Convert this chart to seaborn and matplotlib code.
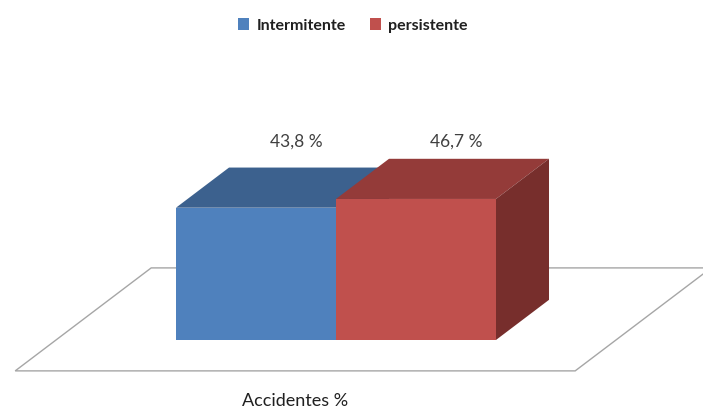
import matplotlib
matplotlib.use("Agg")
import matplotlib.pyplot as plt
from matplotlib.patches import Polygon, Rectangle
import seaborn as sns

series = ["Intermitente", "persistente"]
values = [43.8, 46.7]
value_labels = ["43,8 %", "46,7 %"]
category = "Accidentes %"

front_colors = ["#4F81BD", "#C0504D"]
top_colors = ["#3C618E", "#943B39"]
side_colors = ["#2F4D72", "#772E2C"]

sns.set_theme(style="white")
plt.rcParams["font.family"] = ["Lato", "DejaVu Sans"]

fig = plt.figure(figsize=(7.03, 4.09), dpi=100)
ax = fig.add_axes([0, 0, 1, 1])

sns.barplot(x=series, y=values, hue=series, palette=front_colors,
            width=1.0, saturation=1, edgecolor="none", linewidth=0,
            legend=False, ax=ax, zorder=3)

ax.set_xlim(-1.6, 2.794)
ax.set_ylim(-22.85, 112.58)
ax.axis("off")

# oblique projection of the depth axis (data units)
floor_depth = (0.85, 34.1)
bar_front = 0.3   # bars occupy the middle of the floor's depth
bar_back = 0.69
ddx = floor_depth[0] * (bar_back - bar_front)
ddy = floor_depth[1] * (bar_back - bar_front)

bars = sorted([p for p in ax.patches if p.get_height() > 0],
              key=lambda p: p.get_x())
left = min(b.get_x() for b in bars)
right = max(b.get_x() + b.get_width() for b in bars)
base = bars[0].get_y()

# floor plane
margin = 0.75
fx0 = left - margin - floor_depth[0] * bar_front
fx1 = right + margin - floor_depth[0] * bar_front
fy = base - floor_depth[1] * bar_front
floor = Polygon([(fx0, fy), (fx1, fy),
                 (fx1 + floor_depth[0], fy + floor_depth[1]),
                 (fx0 + floor_depth[0], fy + floor_depth[1])],
                closed=True, facecolor="white", edgecolor="#A6A6A6",
                linewidth=1.0, zorder=1)
ax.add_patch(floor)

for i, b in enumerate(bars):
    x0, w, h = b.get_x(), b.get_width(), b.get_height()
    y0 = b.get_y()
    top = Polygon([(x0, y0 + h), (x0 + w, y0 + h),
                   (x0 + w + ddx, y0 + h + ddy), (x0 + ddx, y0 + h + ddy)],
                  closed=True, facecolor=top_colors[i], edgecolor="none",
                  zorder=3 + i)
    side = Polygon([(x0 + w, y0), (x0 + w + ddx, y0 + ddy),
                    (x0 + w + ddx, y0 + h + ddy), (x0 + w, y0 + h)],
                   closed=True, facecolor=side_colors[i], edgecolor="none",
                   zorder=3 + i)
    ax.add_patch(top)
    ax.add_patch(side)
    b.set_zorder(3.5 + i)
    ax.text(x0 + w / 2 + 0.25, 65.6, value_labels[i], ha="center",
            va="center", fontsize=12.5, color="#404040", zorder=10)

# category label under the floor
ax.text((fx0 + fx1) / 2, fy - 10.0, category, ha="center", va="center",
        fontsize=13, color="#202020")

handles = [Rectangle((0, 0), 1, 1, facecolor=c, edgecolor="none")
           for c in front_colors]
ax.legend(handles, series, loc="upper center", bbox_to_anchor=(0.502, 0.99),
          ncol=2, frameon=False, handlelength=0.7, handleheight=0.7,
          handletextpad=0.45, columnspacing=1.5,
          prop={"size": 11.5, "weight": "bold"}, labelcolor="#202020")

fig.savefig("out.png", dpi=100, facecolor="white")
